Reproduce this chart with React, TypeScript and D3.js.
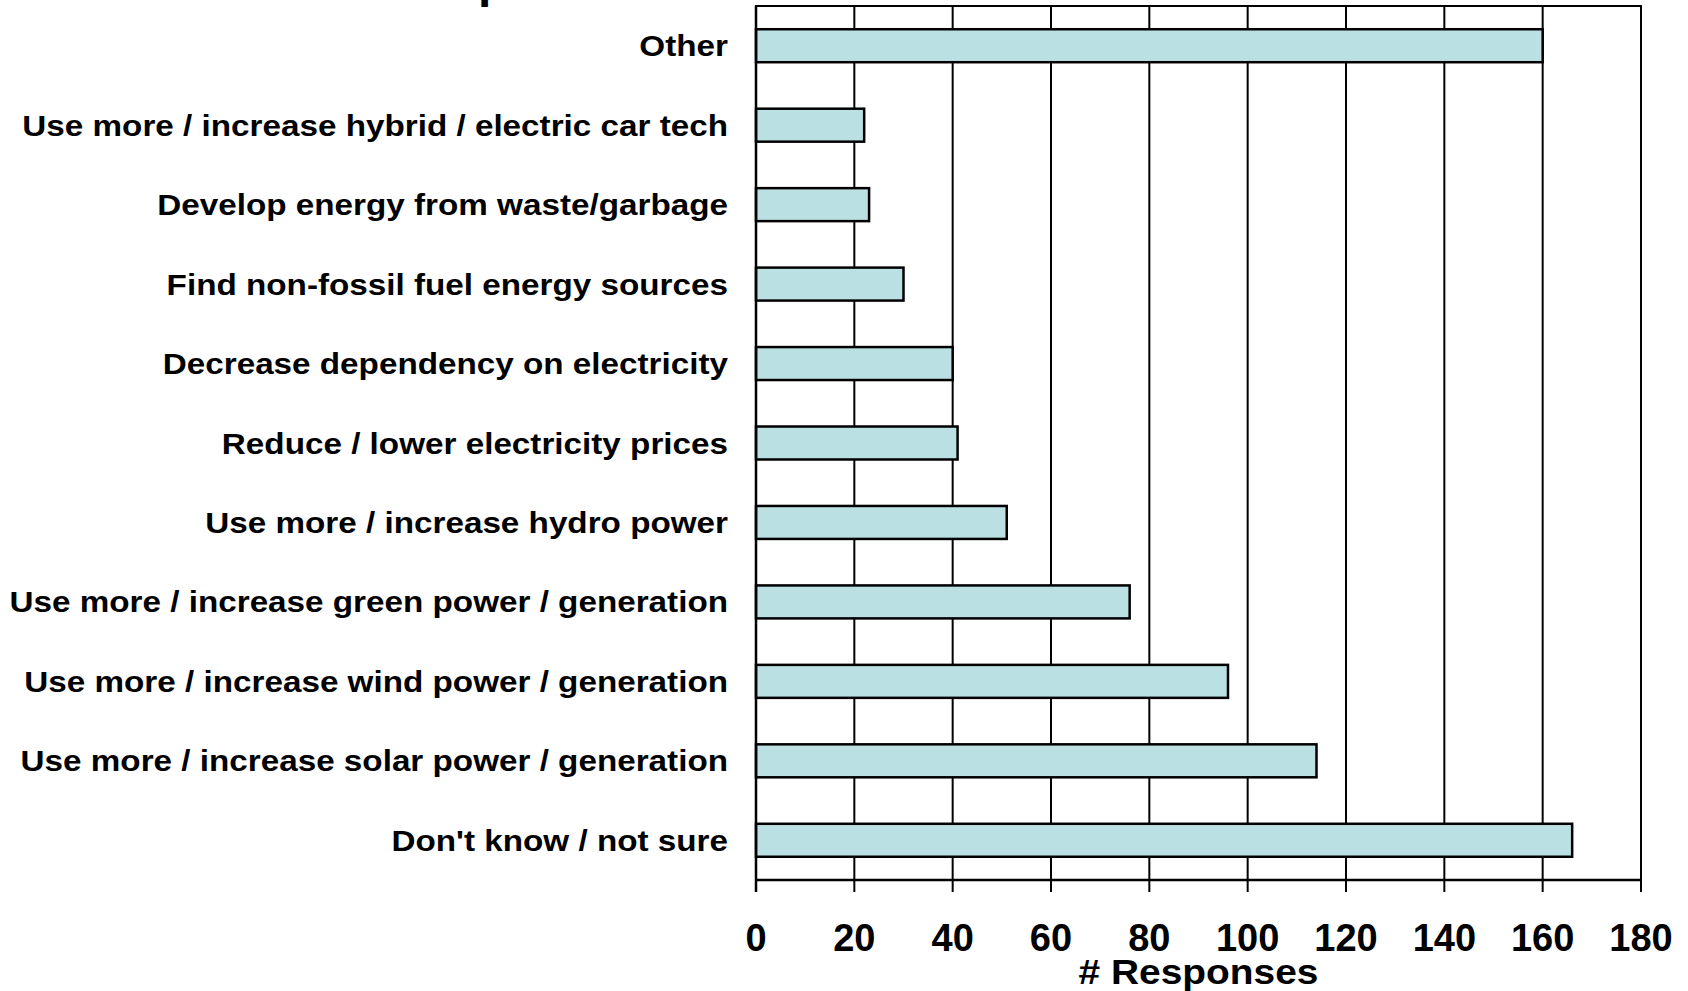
import React from "react";
import * as d3 from "d3";

const categories: string[] = [
  "Other",
  "Use more / increase hybrid / electric car tech",
  "Develop energy from waste/garbage",
  "Find non-fossil fuel energy sources",
  "Decrease dependency on electricity",
  "Reduce / lower electricity prices",
  "Use more / increase hydro power",
  "Use more / increase green power / generation",
  "Use more / increase wind power / generation",
  "Use more / increase solar power / generation",
  "Don't know / not sure",
];
const values: number[] = [160, 22, 23, 30, 40, 41, 51, 76, 96, 114, 166];
const xTicks: number[] = [0, 20, 40, 60, 80, 100, 120, 140, 160, 180];
const xAxisTitle = "# Responses";
const chartTitle = "Top Answers";

const W = 1688;
const H = 991;
const left = 756;
const right = 1641;
const top = 6;
const bottom = 880;
const FONT = "'Liberation Sans', Arial, sans-serif";

export default function App() {
  const x = d3.scaleLinear().domain([0, 180]).range([left, right]);
  const y = d3
    .scaleBand<string>()
    .domain(categories)
    .range([top, bottom])
    .paddingInner(0.585)
    .paddingOuter(0.2925);

  return (
    <svg
      width={W}
      height={H}
      style={{ position: "absolute", left: 0, top: 0, background: "#fff" }}
    >
      <text
        x={423}
        y={-3}
        fontFamily={FONT}
        fontWeight="bold"
        fontSize={48}
        fill="#000"
      >
        {chartTitle}
      </text>
      {/* gridlines */}
      {xTicks.slice(1, -1).map((t) => (
        <line
          key={"g" + t}
          x1={x(t)}
          x2={x(t)}
          y1={top}
          y2={bottom}
          stroke="#000"
          strokeWidth={2}
        />
      ))}
      {/* frame */}
      <rect
        x={left}
        y={top}
        width={right - left}
        height={bottom - top}
        fill="none"
        stroke="#000"
        strokeWidth={2}
      />
      {/* bars */}
      {categories.map((c, i) => (
        <rect
          key={c}
          x={x(0)}
          y={y(c)}
          width={x(values[i]) - x(0)}
          height={y.bandwidth()}
          fill="#BAE0E3"
          stroke="#000"
          strokeWidth={2.5}
        />
      ))}
      {/* axes */}
      <line x1={left} x2={left} y1={top} y2={bottom + 12} stroke="#000" strokeWidth={2.5} />
      <line x1={left} x2={right} y1={bottom} y2={bottom} stroke="#000" strokeWidth={2.5} />
      {xTicks.map((t) => (
        <line
          key={"t" + t}
          x1={x(t)}
          x2={x(t)}
          y1={bottom}
          y2={bottom + 12}
          stroke="#000"
          strokeWidth={2}
        />
      ))}
      {xTicks.map((t) => (
        <text
          key={"l" + t}
          x={x(t)}
          y={951}
          textAnchor="middle"
          fontFamily={FONT}
          fontWeight="bold"
          fontSize={38}
          fill="#000"
        >
          {t}
        </text>
      ))}
      {/* category labels */}
      {categories.map((c) => (
        <text
          key={"c" + c}
          transform={`translate(728,${(y(c) as number) + y.bandwidth() / 2}) scale(1.108,1)`}
          x={0}
          y={0}
          dy="0.35em"
          textAnchor="end"
          fontFamily={FONT}
          fontWeight="bold"
          fontSize={30}
          fill="#000"
        >
          {c}
        </text>
      ))}
      <text
        transform={`translate(${(left + right) / 2},984) scale(1.08,1)`}
        x={0}
        y={0}
        textAnchor="middle"
        fontFamily={FONT}
        fontWeight="bold"
        fontSize={36}
        fill="#000"
      >
        {xAxisTitle}
      </text>
    </svg>
  );
}
